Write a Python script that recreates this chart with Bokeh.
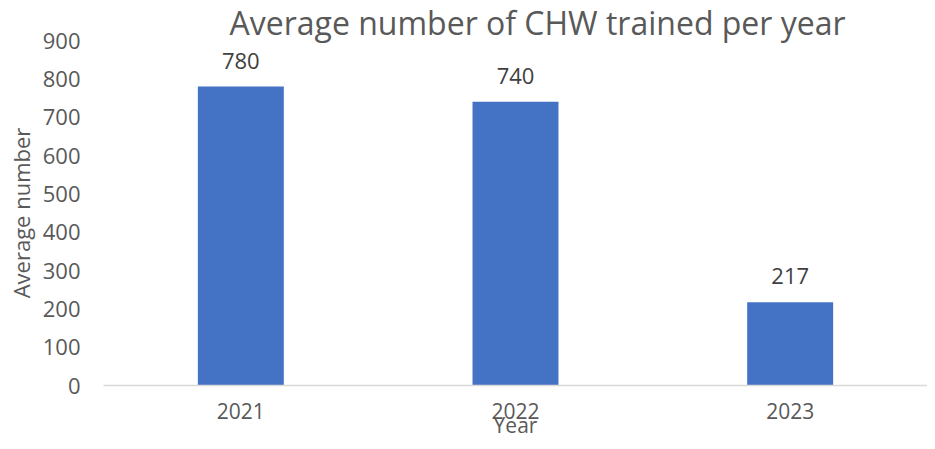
from bokeh.plotting import figure
from bokeh.models import Range1d, FactorRange, ColumnDataSource
from bokeh.core.properties import value
from bokeh.embed import file_html
from bokeh.resources import INLINE

years = ["2021", "2022", "2023"]
values = [780, 740, 217]
labels = [str(v) for v in values]
title_text = "Average number of CHW trained per year"
y_ticks = [0, 100, 200, 300, 400, 500, 600, 700, 800, 900]

FONT = "Open Sans"
GREY = "#595959"

src = ColumnDataSource(dict(x=years, top=values, label=labels))

p = figure(width=927, height=441, output_backend="svg", toolbar_location=None,
           x_range=FactorRange(*years, range_padding=0), y_range=Range1d(0, y_ticks[-1]),
           min_border_left=103, min_border_right=0, min_border_top=40,
           min_border_bottom=52)
p.outline_line_color = None
p.xgrid.grid_line_color = None
p.ygrid.grid_line_color = None
p.background_fill_color = "white"
p.border_fill_color = "white"

p.title.text = title_text
p.title.align = "left"
p.title.offset = 126
p.title.standoff = -7
p.title.text_font = FONT
p.title.text_font_size = "32px"
p.title.text_font_style = "normal"
p.title.text_color = GREY

p.vbar(x="x", top="top", width=0.313, source=src, fill_color="#4472C4", line_color=None)
p.text(x="x", y="top", text="label", source=src, text_align="center",
       text_baseline="alphabetic", y_offset=-26, text_font=value(FONT),
       text_font_size="22px", text_color="#404040")

# y axis
p.yaxis.ticker = y_ticks
p.yaxis.axis_line_color = None
p.yaxis.major_tick_line_color = None
p.yaxis.minor_tick_line_color = None
p.yaxis.major_tick_out = 0
p.yaxis.major_tick_in = 0
p.yaxis.major_label_standoff = 23
p.yaxis.major_label_text_font = FONT
p.yaxis.major_label_text_font_size = "22px"
p.yaxis.major_label_text_color = GREY
p.yaxis.axis_label = "Average number"
p.yaxis.axis_label_text_font = FONT
p.yaxis.axis_label_text_font_size = "22px"
p.yaxis.axis_label_text_font_style = "normal"
p.yaxis.axis_label_text_color = GREY
p.yaxis.axis_label_standoff = 4

# x axis
p.xaxis.axis_line_color = "#D9D9D9"
p.xaxis.axis_line_width = 1.5
p.xaxis.major_tick_line_color = None
p.xaxis.minor_tick_line_color = None
p.xaxis.major_tick_out = 0
p.xaxis.major_tick_in = 0
p.xaxis.major_label_standoff = 17
p.xaxis.major_label_text_font = FONT
p.xaxis.major_label_text_font_size = "21px"
p.xaxis.major_label_text_color = GREY
p.xaxis.axis_label = "Year"
p.xaxis.axis_label_text_font = FONT
p.xaxis.axis_label_text_font_size = "21px"
p.xaxis.axis_label_text_font_style = "normal"
p.xaxis.axis_label_text_color = GREY
p.xaxis.axis_label_standoff = -11

open("out.html", "w").write(file_html(p, INLINE))
